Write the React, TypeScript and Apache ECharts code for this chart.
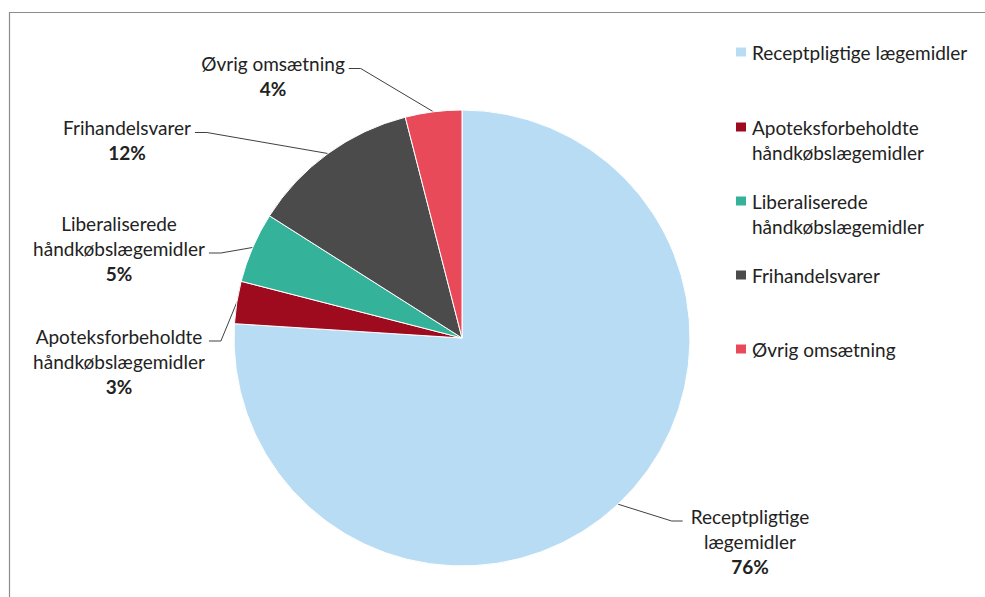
import React, { useEffect, useRef } from "react";
import * as echarts from "echarts";

// ---- data ----
const categories = [
  "Receptpligtige lægemidler",
  "Apoteksforbeholdte håndkøbslægemidler",
  "Liberaliserede håndkøbslægemidler",
  "Frihandelsvarer",
  "Øvrig omsætning",
];
const values = [76, 3, 5, 12, 4];
const legendLines = [
  ["Receptpligtige lægemidler"],
  ["Apoteksforbeholdte", "håndkøbslægemidler"],
  ["Liberaliserede", "håndkøbslægemidler"],
  ["Frihandelsvarer"],
  ["Øvrig omsætning"],
];
const labelLines = [
  ["Receptpligtige", "lægemidler"],
  ["Apoteksforbeholdte", "håndkøbslægemidler"],
  ["Liberaliserede", "håndkøbslægemidler"],
  ["Frihandelsvarer"],
  ["Øvrig omsætning"],
];

// ---- layout / style ----
const colors = ["#B8DCF3", "#9E0B1E", "#35B29A", "#4B4B4B", "#E84A5A"];
const labelCenters = [
  [750, 541],
  [119, 361],
  [119, 248],
  [127, 140],
  [273, 76],
];
const labelSide = [1, -1, -1, -1, -1]; // 1: label lies right of its slice
const anchorLine = [0, 0, 1, 0, 0];
const legendCenters = [52, 127, 201, 275, 349];
const LH = 25;
const FS = 19;
const FONT = "Lato, 'Open Sans', sans-serif";

export default function App() {
  const ref = useRef<HTMLDivElement>(null);
  useEffect(() => {
    if (!ref.current) return;
    const chart = echarts.init(ref.current, undefined, { renderer: "svg" });

    const legends = categories.map((name, i) => {
      const twoLine = legendLines[i].length > 1;
      return {
        show: true,
        orient: "vertical",
        left: 734,
        top: twoLine ? legendCenters[i] - 37.5 : legendCenters[i] - 12.5,
        padding: 0,
        itemWidth: 12,
        itemHeight: 11,
        icon: "rect",
        selectedMode: false,
        data: [name],
        formatter: (n: string) => {
          const lines = legendLines[categories.indexOf(n)];
          return lines.length > 1 ? " \n" + lines.join("\n") : lines[0];
        },
        textStyle: {
          fontFamily: FONT,
          fontSize: FS,
          color: "#222",
          lineHeight: LH,
        },
      };
    });

    chart.setOption({
      animation: false,
      color: colors,
      graphic: [
        {
          type: "rect",
          shape: { x: 9.5, y: 12.5, width: 1200, height: 800 },
          style: { fill: "none", stroke: "#8C8C8C", lineWidth: 1.2 },
          silent: true,
          z: -10,
        },
      ],
      legend: legends,
      series: [
        {
          type: "pie",
          center: [462, 338],
          radius: 228,
          startAngle: 90,
          clockwise: true,
          silent: true,
          itemStyle: { borderColor: "#fff", borderWidth: 1 },
          emphasis: { disabled: true },
          data: categories.map((name, i) => ({ name, value: values[i] })),
          label: {
            show: true,
            position: "outside",
            fontFamily: FONT,
            fontSize: FS,
            color: "#222",
            lineHeight: LH,
            formatter: (p: any) =>
              labelLines[p.dataIndex].map((l) => `{n|${l}}`).join("\n") +
              `\n{p|${Math.round(p.percent)}%}`,
            rich: {
              n: { fontFamily: FONT, fontSize: FS, color: "#222", lineHeight: LH },
              p: {
                fontFamily: FONT,
                fontSize: FS,
                fontWeight: "bold",
                color: "#222",
                lineHeight: LH,
              },
            },
          },
          labelLine: {
            show: true,
            length: 10,
            length2: 10,
            lineStyle: { color: "#404040", width: 1 },
          },
          labelLayout: (params: any) => {
            const i = params.dataIndex;
            const [lx, ly] = labelCenters[i];
            const w = params.labelRect.width;
            const h = params.labelRect.height;
            const top = ly - h / 2;
            const ay = top + LH * (anchorLine[i] + 0.5) + 5;
            const side = labelSide[i];
            const edgeX = side > 0 ? lx - w / 2 - 8 : lx + w / 2 + 4;
            const bendX = edgeX + (side > 0 ? -11 : 12);
            const p0 = params.labelLinePoints
              ? params.labelLinePoints[0]
              : [bendX, ay];
            return {
              x: lx,
              y: ly,
              align: "center",
              verticalAlign: "middle",
              labelLinePoints: [p0, [bendX, ay], [edgeX, ay]],
            };
          },
        },
      ],
    });
    return () => chart.dispose();
  }, []);
  return (
    <div
      ref={ref}
      style={{
        position: "absolute",
        left: 0,
        top: 0,
        width: 985,
        height: 597,
        background: "#fff",
      }}
    />
  );
}
